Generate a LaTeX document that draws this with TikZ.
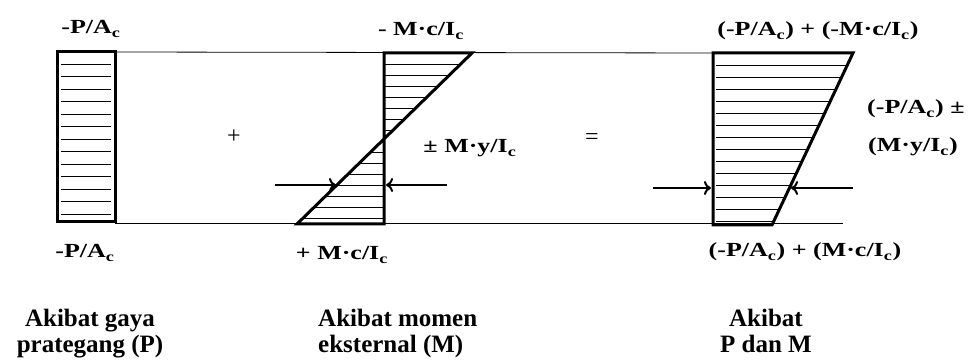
\documentclass[tikz,border=0pt]{standalone}
\usepackage{fontspec}
\setmainfont{Liberation Serif}
\usetikzlibrary{arrows.meta}
\newcommand{\stretchx}[1]{\scalebox{1.3}[1]{#1}}
\begin{document}
\begin{tikzpicture}[x=1pt,y=-1pt,
  outline/.style={line width=3pt, line join=miter},
  guide/.style={line width=0.8pt},
  hatch/.style={line width=0.55pt},
  arr/.style={line width=2pt, -{To[length=7pt,width=14pt]}},
  lbl/.style={font=\fontsize{20}{24}\selectfont\bfseries, inner sep=0pt},
  captxt/.style={font=\fontsize{25}{27}\selectfont\bfseries, inner sep=0pt},
  sign/.style={font=\fontsize{24}{24}\selectfont, inner sep=0pt}]
\useasboundingbox (0,0) rectangle (975,363);

% key points
\coordinate (L1) at (57,52);  \coordinate (L2) at (115,52);
\coordinate (L3) at (115,222); \coordinate (L4) at (57,222);
\coordinate (MA) at (384,53); \coordinate (MB) at (472,53);
\coordinate (MC) at (297,224); \coordinate (MD) at (384,224);
\coordinate (MX) at (384,139);
\coordinate (RE) at (713,53); \coordinate (RF) at (853,53);
\coordinate (RG) at (772,225); \coordinate (RH) at (713,225);
\coordinate (GB) at (843,223); \coordinate (GL) at (115,223);

% hatching
\foreach \y in {64,76.5,...,216} {\draw[hatch] (61,\y) -- (111,\y);}
\begin{scope}
  \clip (MA) -- (MB) -- (MX) -- cycle (MX) -- (MC) -- (MD) -- cycle;
  \foreach \y in {64,75,...,220} {\draw[hatch] (290,\y) -- (480,\y);}
\end{scope}
\begin{scope}
  \clip (RE) -- (RF) -- (RG) -- (RH) -- cycle;
  \foreach \y in {65,77,...,221} {\draw[hatch] (716,\y) -- (860,\y);}
\end{scope}

% guide lines
\draw[guide] (L2) -- (RE);
\draw[guide] (GL) -- (GB);

% outlines
\draw[outline] (L1) rectangle (L3);
\draw[outline] (MA) -- (MB) -- (MC) -- (MD) -- cycle;
\draw[outline] (RE) -- (RF) -- (RG) -- (RH) -- cycle;

% arrows
\coordinate (a1s) at (275,185); \coordinate (a1e) at (336,185);
\coordinate (a2s) at (447,185); \coordinate (a2e) at (386,185);
\coordinate (a3s) at (653,188); \coordinate (a3e) at (711,188);
\coordinate (a4s) at (853,188); \coordinate (a4e) at (791,188);
\draw[arr] (a1s) -- (a1e);
\draw[arr] (a2s) -- (a2e);
\draw[arr] (a3s) -- (a3e);
\draw[arr] (a4s) -- (a4e);

% signs
\node[sign] (plus) at (234,137) {+};
\node[sign] (eq) at (592,139) {=};

% labels
\node[lbl,anchor=base] (pa1) at (91,34) {\stretchx{-P/A\textsubscript{c}}};
\node[lbl,anchor=base] (pa2) at (85,258) {\stretchx{-P/A\textsubscript{c}}};
\node[lbl,anchor=base] (mc1) at (421,36) {\stretchx{- M·c/I\textsubscript{c}}};
\node[lbl,anchor=base] (my) at (470,153) {\stretchx{± M·y/I\textsubscript{c}}};
\node[lbl,anchor=base] (mc2) at (342,260) {\stretchx{+ M·c/I\textsubscript{c}}};
\node[lbl,anchor=base] (t1) at (818,36) {\stretchx{(-P/A\textsubscript{c}) + (-M·c/I\textsubscript{c})}};
\node[lbl,anchor=base west] (t2) at (867,114) {\stretchx{(-P/A\textsubscript{c}) ±}};
\node[lbl,anchor=base west] (t3) at (868,152) {\stretchx{(M·y/I\textsubscript{c})}};
\node[lbl,anchor=base] (t4) at (805,257) {\stretchx{(-P/A\textsubscript{c}) + (M·c/I\textsubscript{c})}};

% captions
\node[captxt,anchor=base] (c1a) at (90,327) {Akibat gaya};
\node[captxt,anchor=base] (c1b) at (90,353) {prategang (P)};
\node[captxt,anchor=base west] (c2a) at (318,327) {Akibat momen};
\node[captxt,anchor=base west] (c2b) at (318,353) {eksternal (M)};
\node[captxt,anchor=base] (c3a) at (766,327) {Akibat};
\node[captxt,anchor=base] (c3b) at (766,353) {P dan M};
\end{tikzpicture}
\end{document}
